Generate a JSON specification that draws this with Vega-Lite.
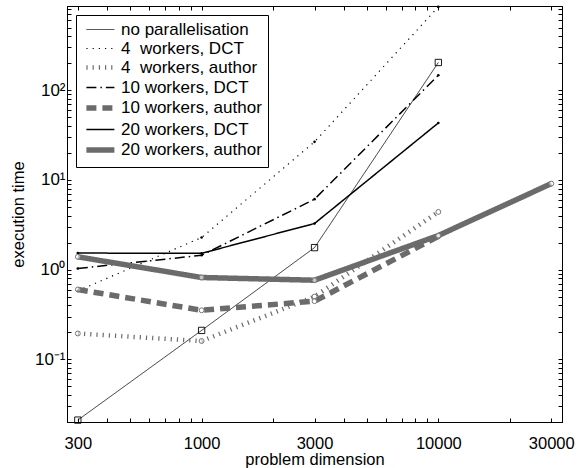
{
  "$schema": "https://vega.github.io/schema/vega-lite/v6.json",
  "width": 495,
  "height": 416,
  "autosize": {"type": "none"},
  "padding": {"left": 67, "top": 6, "right": 22, "bottom": 46},
  "background": "white",
  "config": {
    "font": "Liberation Sans",
    "view": {"stroke": "black", "strokeWidth": 1},
    "axis": {
      "labelFont": "Liberation Sans",
      "labelFontSize": 17,
      "labelColor": "black",
      "titleFont": "Liberation Sans",
      "titleFontSize": 16.5,
      "titleFontWeight": "normal",
      "titleColor": "black",
      "domainColor": "black",
      "tickColor": "black",
      "grid": false,
      "tickSize": -4,
      "labelFlush": false,
      "labelOverlap": false
    }
  },
  "data": {
    "values": [
      {"series": "no parallelisation", "dimension": 300, "time": 0.021},
      {"series": "no parallelisation", "dimension": 1000, "time": 0.21},
      {"series": "no parallelisation", "dimension": 3000, "time": 1.76},
      {"series": "no parallelisation", "dimension": 10000, "time": 204},
      {"series": "4\u00a0 workers, DCT", "dimension": 300, "time": 0.58},
      {"series": "4\u00a0 workers, DCT", "dimension": 1000, "time": 2.28},
      {"series": "4\u00a0 workers, DCT", "dimension": 3000, "time": 26.6},
      {"series": "4\u00a0 workers, DCT", "dimension": 10000, "time": 850},
      {"series": "4\u00a0 workers, author", "dimension": 300, "time": 0.194},
      {"series": "4\u00a0 workers, author", "dimension": 1000, "time": 0.16},
      {"series": "4\u00a0 workers, author", "dimension": 3000, "time": 0.5},
      {"series": "4\u00a0 workers, author", "dimension": 10000, "time": 4.4},
      {"series": "10 workers, DCT", "dimension": 300, "time": 1.03},
      {"series": "10 workers, DCT", "dimension": 1000, "time": 1.445},
      {"series": "10 workers, DCT", "dimension": 3000, "time": 6.1},
      {"series": "10 workers, DCT", "dimension": 10000, "time": 147},
      {"series": "10 workers, author", "dimension": 300, "time": 0.6},
      {"series": "10 workers, author", "dimension": 1000, "time": 0.352},
      {"series": "10 workers, author", "dimension": 3000, "time": 0.445},
      {"series": "10 workers, author", "dimension": 10000, "time": 2.35},
      {"series": "20 workers, DCT", "dimension": 300, "time": 1.53},
      {"series": "20 workers, DCT", "dimension": 1000, "time": 1.52},
      {"series": "20 workers, DCT", "dimension": 3000, "time": 3.27},
      {"series": "20 workers, DCT", "dimension": 10000, "time": 43.2},
      {"series": "20 workers, author", "dimension": 300, "time": 1.39},
      {"series": "20 workers, author", "dimension": 1000, "time": 0.817},
      {"series": "20 workers, author", "dimension": 3000, "time": 0.762},
      {"series": "20 workers, author", "dimension": 10000, "time": 2.4},
      {"series": "20 workers, author", "dimension": 30000, "time": 9.1}
    ]
  },
  "layer": [
    {
      "mark": {"type": "line", "clip": true},
      "encoding": {
        "x": {
          "field": "dimension", "type": "quantitative",
          "scale": {"type": "log", "domain": [270, 33300], "nice": false},
          "axis": {
            "orient": "bottom",
            "title": "problem dimension",
            "titlePadding": 0,
            "format": "d",
            "labelFontSize": 16.5,
            "labelPadding": 17,
            "values": [300, 400, 500, 600, 700, 800, 900, 1000, 2000, 3000, 4000, 5000, 6000, 7000, 8000, 9000, 10000, 20000, 30000],
            "labelExpr": "(datum.value == 300 || datum.value == 1000 || datum.value == 3000 || datum.value == 10000 || datum.value == 30000) ? datum.label : ''"
          }
        },
        "y": {
          "field": "time", "type": "quantitative",
          "scale": {"type": "log", "domain": [0.02, 870], "nice": false},
          "axis": {
            "orient": "left",
            "title": "execution time",
            "titlePadding": 8,
            "labelPadding": 6,
            "values": [0.02, 0.03, 0.04, 0.05, 0.06, 0.07, 0.08, 0.09, 0.1, 0.2, 0.3, 0.4, 0.5, 0.6, 0.7, 0.8, 0.9, 1, 2, 3, 4, 5, 6, 7, 8, 9, 10, 20, 30, 40, 50, 60, 70, 80, 90, 100, 200, 300, 400, 500, 600, 700, 800],
            "labelExpr": "datum.value == 100 ? '10²' : datum.value == 10 ? '10¹' : datum.value == 1 ? '10⁰' : abs(datum.value - 0.1) < 1e-9 ? '10⁻¹' : ''"
          }
        },
        "color": {
          "field": "series", "type": "nominal",
          "scale": {
            "domain": ["no parallelisation", "4\u00a0 workers, DCT", "4\u00a0 workers, author", "10 workers, DCT", "10 workers, author", "20 workers, DCT", "20 workers, author"],
            "range": ["#000000", "#000000", "#6b6b6b", "#000000", "#6b6b6b", "#000000", "#6b6b6b"]
          },
          "legend": {
            "title": null,
            "orient": "top-left",
            "offset": 9,
            "fillColor": "white",
            "strokeColor": "black",
            "padding": 6,
            "labelFont": "Liberation Sans",
            "labelFontSize": 17,
            "labelColor": "black",
            "labelOffset": 19,
            "symbolType": "M-0.8,0H3.2",
            "symbolSize": 196,
            "rowPadding": 1
          }
        },
        "strokeDash": {
          "field": "series", "type": "nominal",
          "scale": {
            "domain": ["no parallelisation", "4\u00a0 workers, DCT", "4\u00a0 workers, author", "10 workers, DCT", "10 workers, author", "20 workers, DCT", "20 workers, author"],
            "range": [[1, 0], [1.2, 5], [1.2, 5], [10, 4, 1.5, 4], [10, 6], [1, 0], [1, 0]]
          }
        },
        "strokeWidth": {
          "field": "series", "type": "nominal",
          "scale": {
            "type": "ordinal",
            "domain": ["no parallelisation", "4\u00a0 workers, DCT", "4\u00a0 workers, author", "10 workers, DCT", "10 workers, author", "20 workers, DCT", "20 workers, author"],
            "range": [0.8, 1.2, 4.5, 1.5, 5.5, 1.5, 5.5]
          }
        }
      }
    },
    {
      "transform": [{"filter": {"field": "series", "equal": "no parallelisation"}}],
      "mark": {"type": "point", "shape": "square", "size": 40, "filled": false, "stroke": "black", "strokeWidth": 0.9, "opacity": 1},
      "encoding": {
        "x": {"field": "dimension", "type": "quantitative", "axis": null},
        "y": {"field": "time", "type": "quantitative", "axis": null}
      }
    },
    {
      "transform": [{"filter": {"field": "series", "oneOf": ["4\u00a0 workers, DCT", "10 workers, DCT", "20 workers, DCT"]}}],
      "mark": {"type": "point", "shape": "circle", "size": 7, "filled": true, "color": "black", "opacity": 1},
      "encoding": {
        "x": {"field": "dimension", "type": "quantitative", "axis": null},
        "y": {"field": "time", "type": "quantitative", "axis": null}
      }
    },
    {
      "transform": [{"filter": {"field": "series", "oneOf": ["4\u00a0 workers, author", "10 workers, author", "20 workers, author"]}}],
      "mark": {"type": "point", "shape": "circle", "size": 24, "filled": false, "fill": "white", "fillOpacity": 0.6, "stroke": "#777777", "strokeWidth": 1, "opacity": 1},
      "encoding": {
        "x": {"field": "dimension", "type": "quantitative", "axis": null},
        "y": {"field": "time", "type": "quantitative", "axis": null}
      }
    },
    {
      "mark": {"type": "point", "opacity": 0},
      "encoding": {
        "x": {
          "field": "dimension", "type": "quantitative",
          "axis": {
            "orient": "top", "title": null, "labels": false,
            "values": [300, 400, 500, 600, 700, 800, 900, 1000, 2000, 3000, 4000, 5000, 6000, 7000, 8000, 9000, 10000, 20000, 30000]
          }
        },
        "y": {
          "field": "time", "type": "quantitative",
          "axis": {
            "orient": "right", "title": null, "labels": false,
            "values": [0.02, 0.03, 0.04, 0.05, 0.06, 0.07, 0.08, 0.09, 0.1, 0.2, 0.3, 0.4, 0.5, 0.6, 0.7, 0.8, 0.9, 1, 2, 3, 4, 5, 6, 7, 8, 9, 10, 20, 30, 40, 50, 60, 70, 80, 90, 100, 200, 300, 400, 500, 600, 700, 800]
          }
        }
      }
    }
  ],
  "resolve": {"axis": {"x": "independent", "y": "independent"}}
}
